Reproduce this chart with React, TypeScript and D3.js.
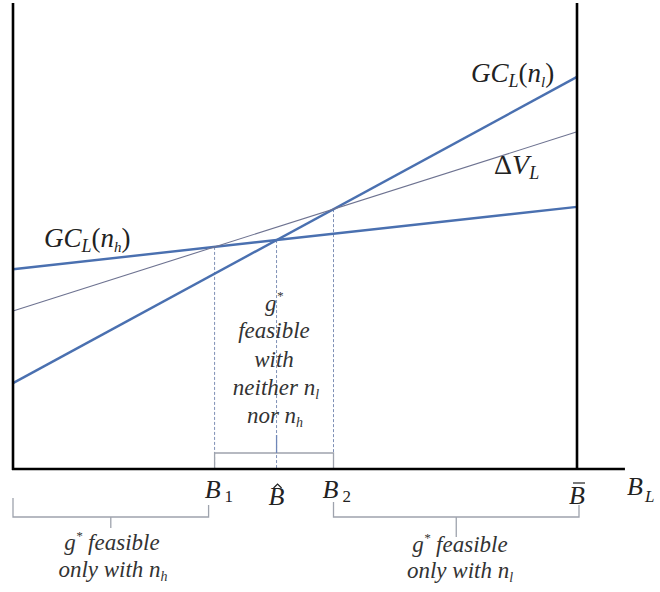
import React from 'react';
import * as d3 from 'd3';

// lines as value at B_L = 0 and at B_L = B-bar
const lineKeys = ['gcl', 'gch', 'dv'];
const valueAtZero = [1.83, 4.26, 3.37];
const valueAtBbar = [8.36, 5.59, 7.19];
const lineWidths = [2.4, 2.4, 1.1];
const lineColors = ['#4a70b0', '#4a70b0', '#6e7391'];

const BBAR = 10;
const AXIS_END = 10.85;
const Y_MAX = 10;

const W = 660;
const H = 592;

const slope = (i: number) => (valueAtBbar[i] - valueAtZero[i]) / BBAR;
// B_L where two lines cross
const cross = (a: number, b: number) => (valueAtZero[b] - valueAtZero[a]) / (slope(a) - slope(b));

const App = () => {
  const x = d3.scaleLinear().domain([0, BBAR]).range([13, 577]);
  const y = d3.scaleLinear().domain([0, Y_MAX]).range([469, 0]);
  const line = d3.line<[number, number]>().x((d) => x(d[0])).y((d) => y(d[1]));

  const val = (i: number, b: number) => valueAtZero[i] + slope(i) * b;

  const b1 = cross(1, 2); // GC(n_h) meets dV
  const bHat = cross(0, 1); // GC(n_l) meets GC(n_h)
  const b2 = cross(0, 2); // GC(n_l) meets dV
  const drops = [
    { b: b1, v: val(1, b1) },
    { b: bHat, v: val(0, bHat) },
    { b: b2, v: val(0, b2) },
  ];

  const y0 = y(0);
  const grey = '#9ea3ad';
  const serif = 'Liberation Serif, Times New Roman, serif';

  const bracket = (xa: number, xb: number, yb: number, tickTo: number, ha: number, hb: number) => (
    <g stroke={grey} strokeWidth={1.3} fill="none">
      <path d={`M${xa},${ha}V${yb}H${xb}V${hb}`} />
      <line x1={(xa + xb) / 2} x2={(xa + xb) / 2} y1={yb} y2={tickTo} />
    </g>
  );

  return (
    <svg width={W} height={H} style={{ position: 'absolute', left: 0, top: 0, background: '#fff', fontFamily: serif }}>
      {/* dashed drop lines */}
      {drops.map((d, i) => (
        <line key={i} x1={x(d.b)} x2={x(d.b)} y1={y(d.v)} y2={y0} stroke="#7d8fb5" strokeWidth={1} strokeDasharray="3,2" />
      ))}

      {/* curves */}
      {lineKeys.map((k, i) => (
        <path key={k} d={line([[0, valueAtZero[i]], [BBAR, valueAtBbar[i]]]) || ''} fill="none" stroke={lineColors[i]} strokeWidth={lineWidths[i]} />
      ))}

      {/* middle bracket */}
      <g stroke={grey} strokeWidth={1.3} fill="none">
        <path d={`M${x(b1)},${y0}V${y0 - 16}H${x(b2)}V${y0}`} />
        <line x1={x(bHat)} x2={x(bHat)} y1={y0 - 16} y2={y0 - 34} stroke="#6f86b8" />
      </g>

      {/* axes */}
      <g stroke="#000" strokeWidth={2.6} fill="none">
        <line x1={x(0)} x2={x(0)} y1={3} y2={y0 + 1} />
        <line x1={x(BBAR)} x2={x(BBAR)} y1={3} y2={y0} />
        <line x1={x(0) - 1} x2={x(AXIS_END)} y1={y0} y2={y0} />
      </g>

      {/* bottom brackets */}
      {bracket(x(0), x(b1) - 6, y0 + 48, y0 + 59, y0 + 29, y0 + 36)}
      {bracket(x(b2), x(BBAR) + 2, y0 + 48, y0 + 68, y0 + 33, y0 + 36)}

      {/* tick labels */}
      <g fill="#222" fontSize={26} fontStyle="italic">
        <text x={x(b1) - 2} y={y0 + 29} textAnchor="middle">B</text>
        <text x={x(b1) + 10} y={y0 + 33} fontSize={17} fontStyle="normal">1</text>
        <text x={x(bHat)} y={y0 + 36} textAnchor="middle">B</text>
        <path d={`M${x(bHat) - 3},${y0 + 19}L${x(bHat) + 1},${y0 + 15}L${x(bHat) + 5},${y0 + 19}`} fill="none" stroke="#222" strokeWidth={1.2} />
        <text x={x(b2) - 3} y={y0 + 29} textAnchor="middle">B</text>
        <text x={x(b2) + 9} y={y0 + 33} fontSize={17} fontStyle="normal">2</text>
        <text x={x(BBAR)} y={y0 + 35} textAnchor="middle">B</text>
        <line x1={x(BBAR) - 4} x2={x(BBAR) + 8} y1={y0 + 14} y2={y0 + 14} stroke="#222" strokeWidth={1.2} />
        <text x={x(AXIS_END) + 2} y={y0 + 26}>B</text>
        <text x={x(AXIS_END) + 20} y={y0 + 33} fontSize={17}>L</text>
      </g>

      {/* curve labels */}
      <g fill="#222" fontStyle="italic" fontSize={27}>
        <text x={471} y={82}>
          GC<tspan fontSize={18} dy={5}>L</tspan>
          <tspan dy={-5} fontStyle="normal">(</tspan>n<tspan fontSize={15} dy={5}>l</tspan>
          <tspan dy={-5} fontStyle="normal">)</tspan>
        </text>
        <text x={494} y={174} fontSize={28}>
          <tspan fontStyle="normal">Δ</tspan>V<tspan fontSize={18} dy={5}>L</tspan>
        </text>
        <text x={44} y={247}>
          GC<tspan fontSize={18} dy={5}>L</tspan>
          <tspan dy={-5} fontStyle="normal">(</tspan>n<tspan fontSize={15} dy={5}>h</tspan>
          <tspan dy={-5} fontStyle="normal">)</tspan>
        </text>
      </g>

      {/* middle note */}
      <g fill="#333" fontStyle="italic" fontSize={23} textAnchor="middle">
        <text x={274} y={311}>g<tspan fontSize={13} dy={-11}>*</tspan></text>
        <text x={274} y={338}>feasible</text>
        <text x={274} y={367}>with</text>
        <text x={276} y={395}>neither n<tspan fontSize={14} dy={4}>l</tspan></text>
        <text x={275} y={423}>nor n<tspan fontSize={14} dy={4}>h</tspan></text>
      </g>

      {/* bottom notes */}
      <g fill="#333" fontStyle="italic" fontSize={23} textAnchor="middle">
        <text x={112} y={550}>g<tspan fontSize={13} dy={-10}>*</tspan><tspan dy={10}> feasible</tspan></text>
        <text x={113} y={577}>only with n<tspan fontSize={14} dy={4}>h</tspan></text>
        <text x={460} y={552}>g<tspan fontSize={13} dy={-10}>*</tspan><tspan dy={10}> feasible</tspan></text>
        <text x={460} y={578}>only with n<tspan fontSize={14} dy={4}>l</tspan></text>
      </g>
    </svg>
  );
};

export default App;
